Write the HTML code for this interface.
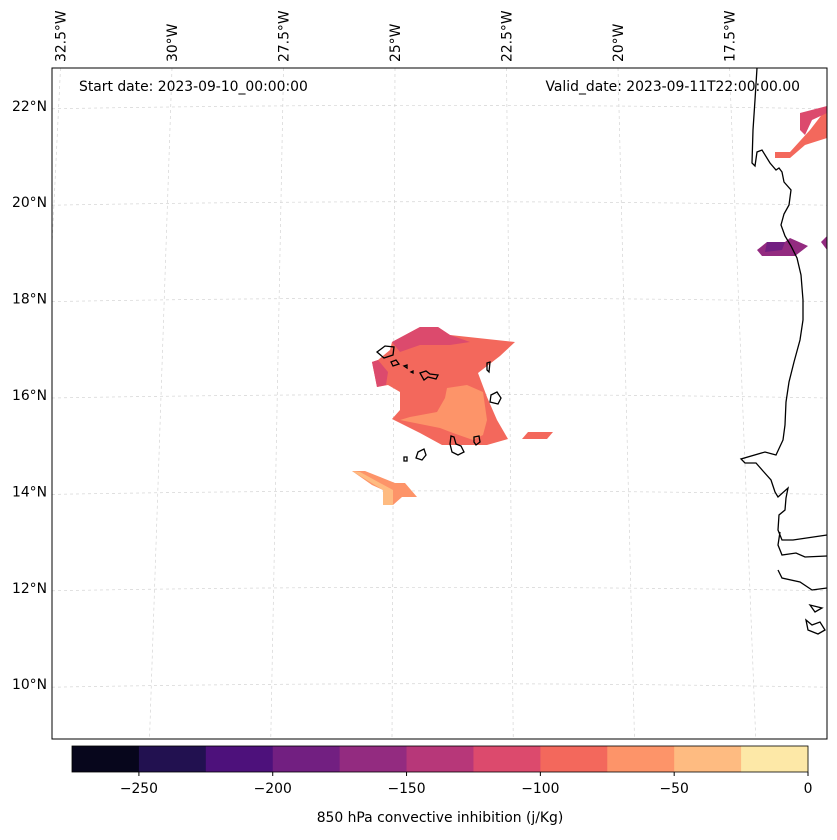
<!DOCTYPE html>
<html><head><meta charset="utf-8"><style>
body{margin:0;background:#fff;width:837px;height:836px;overflow:hidden;font-family:"DejaVu Sans",sans-serif}
</style></head><body>
<svg width="837" height="836" xmlns="http://www.w3.org/2000/svg" font-family="DejaVu Sans, sans-serif" font-size="13.9">
<defs><clipPath id="c"><rect x="52" y="68" width="775" height="671"/></clipPath></defs>
<g id="grid" stroke="#d4d4d4" stroke-width="0.7" stroke-dasharray="3,3" fill="none" clip-path="url(#c)"></g>
<g id="fills"></g>
<g fill="none" stroke="#000" stroke-width="1.3">
<path d="M757,68 L755,100 L753,130 L752,163 L755,166 L757,152 L762,150 L770,163 L776,170 L779,168 L782,172 L784,182 L791,190 L789,205 L784,214 L781,225 L785,236 L791,246 L797,258 L801,275 L803,300 L803,320 L800,340 L794,362 L789,382 L786,402 L785,425 L783,440 L776,455 L765,452 L741,459 L745,463 L756,463 L763,471 L771,480 L775,492 L778,497 L788,488 L786,498 L785,510 L779,515 L778,530 L782,540 L793,540 L827,535"/>
<path d="M780,532 L778,545 L782,555 L796,553 L805,557 L827,556"/>
<path d="M778,570 L782,578 L800,582 L812,590 L827,588"/>
<path d="M810,605 L815,612 L822,608 Z M806,620 L812,625 L820,622 L825,630 L818,634 L808,630 Z"/>
<path d="M377,352 L385,346 L394,347 L393,355 L384,358 Z"/>
<path d="M391,362 L396,360 L399,364 L393,366 Z M404,366 L407,365 L407,368 Z M411,372 L413,371 L413,373 Z"/>
<path d="M420,373 L426,371 L430,374 L438,375 L436,379 L428,377 L424,380 Z"/>
<path d="M487,363 L490,362 L489,372 L487,370 Z"/>
<path d="M491,395 L497,392 L501,398 L498,404 L490,402 Z"/>
<path d="M451,436 L454,437 L456,444 L461,446 L464,452 L458,455 L452,452 L450,444 Z"/>
<path d="M474,437 L479,436 L480,442 L476,445 L474,442 Z"/>
<path d="M418,452 L424,449 L426,455 L422,460 L416,458 Z"/>
<path d="M404,457 L407,457 L407,461 L404,461 Z"/>
</g>
<rect x="52" y="68" width="775" height="671" fill="none" stroke="#000" stroke-width="1"/>
<g id="latlab" text-anchor="end"></g>
<g id="lonlab"></g>
<text x="79" y="91">Start date: 2023-09-10_00:00:00</text>
<text x="800" y="91" text-anchor="end">Valid_date: 2023-09-11T22:00:00.00</text>
<g id="cbar"></g>
<text x="440" y="822" text-anchor="middle">850 hPa convective inhibition (j/Kg)</text>
</svg>
<script>
const latTicks=[22,20,18,16,14,12,10];
const lonTicks=[-32.5,-30,-27.5,-25,-22.5,-20,-17.5];
const cbLevels=[-275,-250,-225,-200,-175,-150,-125,-100,-75,-50,-25,0];
const cbColors=["#07061c","#221150","#4d117b","#721f81","#932b80","#b73779","#dc4a6d","#f3685c","#fd9469","#febb81","#fde8a7"];
const cbTicks=[-250,-200,-150,-100,-50,0];
const ns="http://www.w3.org/2000/svg";
const latY=v=>395-(v-16)*48.2;
const lonTop=v=>395+(v+25)*44.6;
const lonBot=v=>392+(v+25)*48.5;
const cx=v=>72+(v+275)/275*736;
function mk(t,a,p){const e=document.createElementNS(ns,t);for(const k in a)e.setAttribute(k,a[k]);p.appendChild(e);return e;}
const grid=document.getElementById('grid');
latTicks.forEach(v=>{const y=latY(v);
 const l=mk('path',{d:`M52,${y+3} Q440,${y-4} 827,${y+3}`,fill:'none'},grid);
 
 
 const t=mk('text',{x:47,y:y+5},document.getElementById('latlab'));
 
 
 t.textContent=v+'°N';});
lonTicks.forEach(v=>{const x1=lonTop(v),x2=lonBot(v);
 const l=mk('line',{x1:x1,y1:68,x2:x2,y2:739},grid);
 
 
 const t=mk('text',{x:0,y:0,transform:`translate(${x1+5},62) rotate(-90)`},document.getElementById('lonlab'));
 
 
 t.textContent=Math.abs(v)+'°W';});
const regionBins=[7,6,6,8,7,8,9,7,6,4,3,4];
const regionPolys=[
"392,342 420,327 438,327 450,335 515,342 500,356 478,373 487,397 497,420 508,439 487,445 442,445 420,433 392,419 400,410 400,392 388,385 377,387 372,362 378,360 390,350",
"392,342 420,327 438,327 450,335 470,342 450,345 420,345 400,352",
"372,362 378,360 388,372 386,385 377,387",
"447,388 467,385 483,392 487,420 483,435 473,440 453,433 440,428 400,420 410,417 437,412 445,398",
"522,439 528,432 553,432 547,439",
"352,471 365,471 395,483 405,483 417,497 402,497 393,505 383,505 383,490 372,485",
"352,471 360,472 380,483 393,490 393,505 383,505 383,490",
"775,152 790,152 810,130 827,108 827,138 805,145 790,158 775,158",
"800,113 827,106 827,113 812,120 805,135 800,130",
"757,250 767,242 785,242 790,238 808,246 795,256 762,256",
"767,242 785,242 782,250 765,252",
"821,242 827,236 827,250"];
const fills=document.getElementById('fills');
regionPolys.forEach((p,i)=>{const e=mk('polygon',{points:p,fill:cbColors[regionBins[i]]},fills);
 
 });
const cb=document.getElementById('cbar');
cbColors.forEach((c,i)=>{const e=mk('rect',{x:cx(cbLevels[i]),y:746,width:cx(cbLevels[i+1])-cx(cbLevels[i])+0.5,height:26,fill:c},cb);
 
 });
mk('rect',{x:72,y:746,width:736,height:26,fill:'none',stroke:'#000','stroke-width':0.8},cb);
cbTicks.forEach(v=>{const x=cx(v);mk('line',{x1:x,y1:772,x2:x,y2:776,stroke:'#000'},cb);
 const t=mk('text',{x:x,y:793,'text-anchor':'middle'},cb);
 
 
 t.textContent=v<0?'\u2212'+Math.abs(v):v;});
</script>
</body></html>
